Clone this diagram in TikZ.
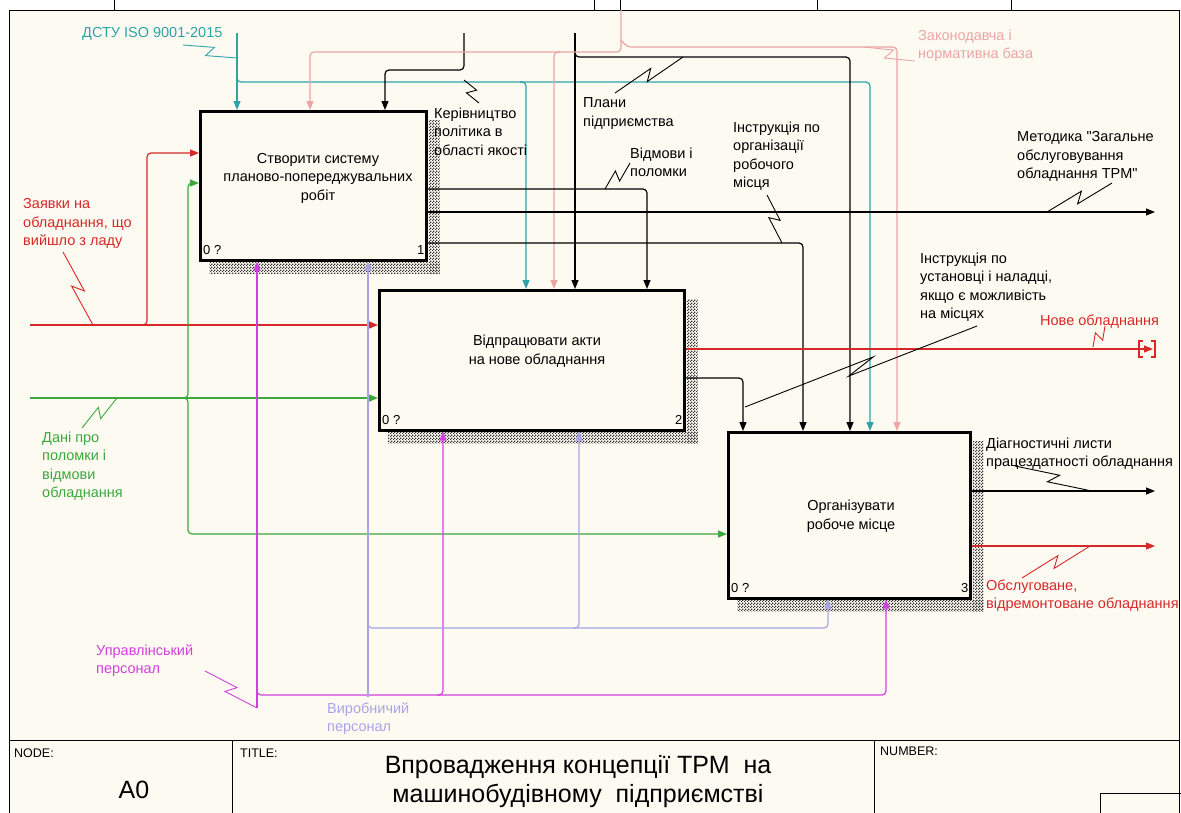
\documentclass[tikz,border=0pt]{standalone}
\usepackage{fontspec}
\setmainfont{Liberation Sans}[Ligatures=TeXOff]
\usetikzlibrary{arrows.meta,calc,patterns}

\definecolor{paper}{HTML}{FDFAF1}
\definecolor{isoteal}{HTML}{2FA3A8}
\definecolor{lawpink}{HTML}{EBA5A5}
\definecolor{reqred}{HTML}{D62828}
\definecolor{datagreen}{HTML}{3DA83D}
\definecolor{mgrmag}{HTML}{D23FE0}
\definecolor{wrklav}{HTML}{A8A4E6}

\pgfdeclarepatternformonly{idefdots}{\pgfpointorigin}{\pgfqpoint{3pt}{3pt}}{\pgfqpoint{3pt}{3pt}}{%
  \pgfpathrectangle{\pgfpointorigin}{\pgfqpoint{1.5pt}{1.5pt}}%
  \pgfpathrectangle{\pgfqpoint{1.5pt}{1.5pt}}{\pgfqpoint{1.5pt}{1.5pt}}%
  \pgfusepath{fill}}

\newcommand{\lblfont}{\fontsize{14.5}{18.5}\selectfont}
% squiggle between a label and its arrow
\newcommand{\squig}[3][black]{%
  \draw[#1,line width=0.9pt] (#2) -- ($(#2)!0.56!(#3)!5pt!90:(#3)$)
    -- ($(#2)!0.44!(#3)!5pt!-90:(#3)$) -- (#3);}
% dotted shadow of an activity box
\newcommand{\hatch}[1]{%
  \fill[pattern=idefdots,pattern color=black!80]
    ($(#1.south west)+(10,1.3)$) rectangle ($(#1.south east)+(12,12)$);
  \fill[pattern=idefdots,pattern color=black!80]
    ($(#1.north east)+(1.3,10)$) rectangle ($(#1.south east)+(12,12)$);}

\begin{document}
\begin{tikzpicture}[x=1pt,y=-1pt,
  conn/.style={line width=1.2pt,rounded corners=4pt},
  arr/.style={conn,-{Triangle[length=9pt,width=7pt]}},
  fbox/.style={draw,line width=2.6pt,fill=paper,anchor=north west,inner sep=0pt},
  boxtxt/.style={align=center,inner sep=0pt,font=\lblfont},
  lbl/.style={anchor=north west,align=left,inner sep=0pt,font=\lblfont},
  numtxt/.style={font=\fontsize{13}{15}\selectfont,inner sep=0pt,anchor=base west},
  small/.style={font=\fontsize{12.5}{14}\selectfont,anchor=base west,inner sep=0pt}]
\useasboundingbox (0,0) rectangle (1181,812);
\fill[white] (0,0) rectangle (1181,812);

% frame and title block
\draw[line width=1pt,fill=paper] (9,10) rectangle (1179,830);
\draw[line width=1pt] (9,740) -- (1179,740);
\draw[line width=1pt] (232,740) -- (232,830) (874,740) -- (874,830);
\draw[line width=1pt] (1100,793) rectangle (1190,830);
\foreach \tx in {114,594,620,817,1011}
  \draw[line width=0.8pt] (\tx,0) -- (\tx,10);

% activity boxes
\node[fbox,minimum width=226pt,minimum height=149pt] (b1) at (199,110) {};
\node[fbox,minimum width=305pt,minimum height=140pt] (b2) at (378,289) {};
\node[fbox,minimum width=242pt,minimum height=166pt] (b3) at (727,431) {};
\hatch{b1}
\hatch{b2}
\hatch{b3}
\node[boxtxt] (b1t) at (318,178) {Створити систему\\планово-попереджувальних\\робіт};
\node[boxtxt] (b2t) at (537,351) {Відпрацювати акти\\на нове обладнання};
\node[boxtxt] (b3t) at (851,516) {Організувати\\робоче місце};
\node[numtxt] (b1q) at ($(b1.south west)+(4,-7)$) {0 ?};
\node[numtxt,anchor=base east] (b1k) at ($(b1.south east)+(-3,-7)$) {1};
\node[numtxt] (b2q) at ($(b2.south west)+(4,-7)$) {0 ?};
\node[numtxt,anchor=base east] (b2k) at ($(b2.south east)+(-3,-7)$) {2};
\node[numtxt] (b3q) at ($(b3.south west)+(4,-7)$) {0 ?};
\node[numtxt,anchor=base east] (b3k) at ($(b3.south east)+(-3,-7)$) {3};

% free ends
\coordinate (isoSrc) at (237,33);
\coordinate (mgmtSrc) at (464,33);
\coordinate (planSrc) at (575,33);
\coordinate (lawSrc) at (621,10);
\coordinate (reqSrc) at (30,325);
\coordinate (dataSrc) at (30,398);
\coordinate (mgrSrc) at (257,708);
\coordinate (wrkSrc) at (368,697);
\coordinate (methEnd) at (1155,212);
\coordinate (newEnd) at (1153,349);
\coordinate (diagEnd) at (1155,491);
\coordinate (fixEnd) at (1155,546);

% controls
\draw[arr,isoteal] (isoSrc) -- (isoSrc |- b1.north);
\draw[arr,isoteal] (237,74) -- (237,82) -- (870,82) -- (b3.north -| 870,0);
\draw[arr,isoteal] (520,82) -- (526,82) -- (b2.north -| 526,0);
\draw[arr] (mgmtSrc) -- (464,70) -- (385,70) -- (b1.north -| 385,0);
\draw[arr] (planSrc) -- (planSrc |- b2.north);
\draw[arr] (575,51) -- (575,57) -- (850,57) -- (b3.north -| 850,0);
\draw[arr,lawpink] (lawSrc) -- (621,52) -- (310,52) -- (b1.north -| 310,0);
\draw[arr,lawpink] (621,40) -- (627,47) -- (897,47) -- (b3.north -| 897,0);
\draw[arr,lawpink] (560,52) -- (554,52) -- (b2.north -| 554,0);

% inputs
\draw[arr,reqred] (reqSrc) -- (reqSrc -| b2.west);
\draw[arr,reqred] (141,325) -- (147,325) -- (147,153) -- (b1.west |- 0,153);
\draw[arr,datagreen] (dataSrc) -- (dataSrc -| b2.west);
\draw[arr,datagreen] (182,398) -- (188,398) -- (188,183) -- (b1.west |- 0,183);
\draw[arr,datagreen] (182,398) -- (188,398) -- (188,534) -- (b3.west |- 0,534);

% outputs
\draw[arr] (b1.east |- 0,189) -- (647,189) -- (b2.north -| 647,0);
\draw[arr] (b1.east |- 0,212) -- (methEnd);
\draw[arr] (b1.east |- 0,243) -- (803,243) -- (b3.north -| 803,0);
\draw[arr,reqred] (b2.east |- 0,349) -- (newEnd);
\draw[reqred,line width=1.2pt] (1143,341) -- (1139,341) -- (1139,357) -- (1143,357);
\draw[reqred,line width=1.2pt] (1151,341) -- (1155,341) -- (1155,357) -- (1151,357);
\draw[arr] (b2.east |- 0,378) -- (743,378) -- (b3.north -| 743,0);
\draw[arr] (b3.east |- 0,491) -- (diagEnd);
\draw[arr,reqred] (b3.east |- 0,546) -- (fixEnd);

% mechanisms
\draw[arr,mgrmag] (mgrSrc) -- (mgrSrc |- b1.south);
\draw[arr,mgrmag] (257,689) -- (257,695) -- (886,695) -- (b3.south -| 886,0);
\draw[arr,mgrmag] (437,695) -- (443,695) -- (b2.south -| 443,0);
\draw[arr,wrklav] (wrkSrc) -- (wrkSrc |- b1.south);
\draw[arr,wrklav] (368,622) -- (368,628) -- (828,628) -- (b3.south -| 828,0);
\draw[arr,wrklav] (573,628) -- (579,628) -- (b2.south -| 579,0);

% squiggles
\squig[isoteal]{183,45}{237,58}
\squig{464,80}{479,103}
\squig{615,93}{683,57}
\squig{605,189}{630,163}
\squig{767,195}{782,243}
\squig{1047,212}{1112,183}
\squig[lawpink]{863,47}{915,61}
\squig[reqred]{63,252}{93,325}
\squig[datagreen]{82,428}{117,398}
\squig{745,407}{977,326}
\squig[reqred]{1093,347}{1105,326}
\squig{1015,466}{1092,491}
\squig[reqred]{1022,578}{1090,546}
\squig[mgrmag]{205,671}{257,708}

% arrow labels
\node[lbl,isoteal] (isoLbl) at (82,27.5) {ДСТУ ISO 9001-2015};
\node[lbl] (mgmtLbl) at (434,107.5) {Керівництво\\політика в\\області якості};
\node[lbl] (planLbl) at (583,97.5) {Плани\\підприємства};
\node[lbl] (failLbl) at (630,147.5) {Відмови і\\поломки};
\node[lbl] (wpLbl) at (733,121.5) {Інструкція по\\організації\\робочого\\місця};
\node[lbl,lawpink] (lawLbl) at (918,29.5) {Законодавча і\\нормативна база};
\node[lbl] (methLbl) at (1017,131.5) {Методика "Загальне\\обслуговування\\обладнання TPM"};
\node[lbl,reqred] (reqLbl) at (23,198.5) {Заявки на\\обладнання, що\\вийшло з ладу};
\node[lbl,datagreen] (dataLbl) at (42,431.5) {Дані про\\поломки і\\відмови\\обладнання};
\node[lbl] (setLbl) at (920,252.5) {Інструкція по\\установці і наладці,\\якщо є можливість\\на місцях};
\node[lbl,reqred] (newLbl) at (1040,314.5) {Нове обладнання};
\node[lbl] (diagLbl) at (986,437.5) {Діагностичні листи\\працездатності обладнання};
\node[lbl,reqred] (fixLbl) at (986,579.5) {Обслуговане,\\відремонтоване обладнання};
\node[lbl,mgrmag] (mgrLbl) at (96,644.5) {Управлінський\\персонал};
\node[lbl,wrklav] (wrkLbl) at (327,702.5) {Виробничий\\персонал};

% title block texts
\node[small] (nodeLbl) at (14,757) {NODE:};
\node[small] (titleLbl) at (240,757) {TITLE:};
\node[small] (numLbl) at (880,755) {NUMBER:};
\node[font=\fontsize{25}{29}\selectfont] (nodeId) at (134,790) {A0};
\node[font=\fontsize{25}{29}\selectfont,align=center] (diagTitle) at (578,782)
  {Впровадження концепції ТРМ\ \ на\\машинобудівному\ \ підприємстві};
\end{tikzpicture}
\end{document}
